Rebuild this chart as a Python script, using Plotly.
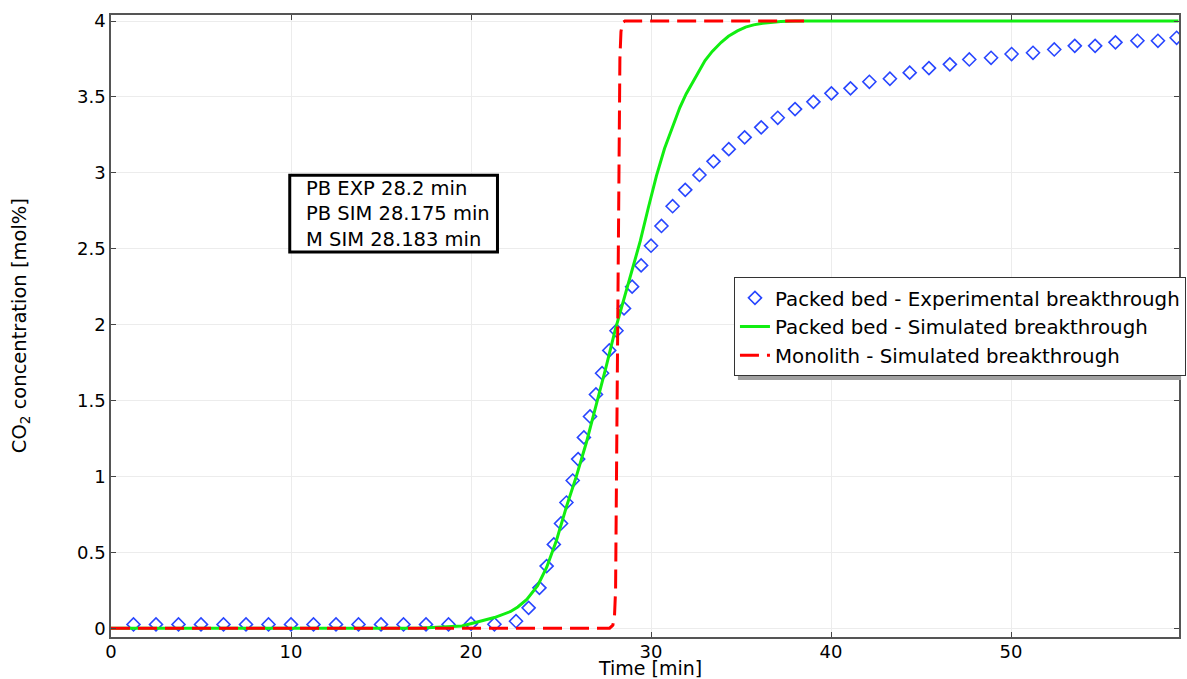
import plotly.graph_objects as go

# Packed bed - experimental breakthrough
exp_t = [1.25, 2.5, 3.75, 5.0, 6.25, 7.5, 8.75, 10.0, 11.25, 12.5, 13.75, 15.0, 16.25, 17.5, 18.75, 20.0,
         21.3, 22.5, 23.2, 23.8, 24.2, 24.6, 25.0, 25.3, 25.65, 25.95, 26.27, 26.61, 26.94, 27.28, 27.68,
         28.08, 28.5, 28.95, 29.45, 30.0, 30.58, 31.2, 31.9, 32.69, 33.47, 34.32, 35.2, 36.12, 37.04, 38.0,
         39.02, 40.02, 41.08, 42.13, 43.27, 44.37, 45.44, 46.6, 47.68, 48.89, 50.03, 51.22, 52.4, 53.54,
         54.67, 55.8, 57.02, 58.16, 59.2]
exp_c = [0.025, 0.025, 0.025, 0.025, 0.025, 0.025, 0.025, 0.025, 0.025, 0.025, 0.025, 0.025, 0.025, 0.025, 0.025, 0.03,
         0.026, 0.046, 0.134, 0.266, 0.409, 0.552, 0.69, 0.828, 0.973, 1.114, 1.257, 1.395, 1.54, 1.68, 1.83,
         1.96, 2.107, 2.25, 2.39, 2.52, 2.65, 2.78, 2.888, 2.986, 3.076, 3.156, 3.234, 3.30, 3.363, 3.42,
         3.468, 3.524, 3.557, 3.60, 3.62, 3.66, 3.69, 3.715, 3.747, 3.758, 3.783, 3.791, 3.813, 3.837,
         3.837, 3.86, 3.87, 3.87, 3.89]

# Packed bed - simulated breakthrough
sim_t = [0, 17.0, 19.5, 20.4, 21.3, 22.2, 22.6, 23.1, 23.7, 24.2, 24.75, 25.3, 25.85, 26.4, 27.0, 27.5,
         28.0, 28.55, 29.0, 29.4, 29.85, 30.3, 30.75, 31.2, 31.6, 31.95, 32.5, 33.0, 33.4, 33.9, 34.3,
         34.8, 35.25, 35.7, 36.2, 36.7, 37.2, 38.0, 59.3]
sim_c = [0, 0, 0.015, 0.04, 0.07, 0.11, 0.14, 0.19, 0.28, 0.40, 0.58, 0.80, 1.0, 1.22, 1.49, 1.72,
         1.96, 2.19, 2.37, 2.55, 2.77, 2.98, 3.16, 3.31, 3.43, 3.52, 3.64, 3.74, 3.80, 3.86, 3.90,
         3.935, 3.96, 3.975, 3.985, 3.992, 3.997, 4.0, 4.0]

# Monolith - simulated breakthrough
mono_t = [0, 27.7, 27.88, 27.97, 28.03, 28.15, 28.27, 28.33, 28.42, 28.55, 38.5]
mono_c = [0, 0, 0.02, 0.08, 0.25, 2.0, 3.75, 3.93, 3.99, 4.0, 4.0]

x_ticks = [0, 10, 20, 30, 40, 50]
y_ticks = [0, 0.5, 1, 1.5, 2, 2.5, 3, 3.5, 4]
y_tick_labels = ["0", "0.5", "1", "1.5", "2", "2.5", "3", "3.5", "4"]

names = ["Packed bed - Experimental breakthrough",
         "Packed bed - Simulated breakthrough",
         "Monolith - Simulated breakthrough"]
box_text = "PB EXP 28.2 min<br>PB SIM 28.175 min<br>M SIM 28.183 min"

FONT = "DejaVu Sans"

fig = go.Figure()
fig.add_trace(go.Scatter(x=exp_t, y=exp_c, mode="markers", name=names[0],
                         marker=dict(symbol="diamond-open", size=10, color="rgb(40,70,255)",
                                     line=dict(width=1.6, color="rgb(40,70,255)"))))
fig.add_trace(go.Scatter(x=sim_t, y=sim_c, mode="lines", name=names[1],
                         line=dict(color="#11ee11", width=3)))
fig.add_trace(go.Scatter(x=mono_t, y=mono_c, mode="lines", name=names[2],
                         line=dict(color="#ff0000", width=3, dash="19px,8px")))

axis_common = dict(showgrid=True, gridcolor="#ececec", gridwidth=1, zeroline=False,
                   showline=True, linecolor="#555555", linewidth=1.5, mirror="ticks",
                   ticks="inside", ticklen=5, tickcolor="#444444",
                   tickfont=dict(family=FONT, size=18, color="black"))

fig.update_xaxes(range=[0, 59.33], tickvals=x_ticks, ticklabelstandoff=-2, **axis_common)
fig.update_yaxes(range=[-0.058, 4.04], tickvals=y_ticks, ticktext=y_tick_labels, **axis_common)

# text box: frame + text
fig.add_shape(type="rect", xref="x", yref="y", x0=9.93, x1=21.47, y0=2.478, y1=2.985,
              line=dict(color="black", width=3), fillcolor="white", layer="above")
fig.add_annotation(x=10.71, y=2.731, xref="x", yref="y", xanchor="left", yanchor="middle",
                   text=box_text, showarrow=False, align="left",
                   font=dict(family=FONT, size=19.5, color="black"))

fig.add_annotation(x=0.505, y=-0.0705, xref="paper", yref="paper", xanchor="center", yanchor="bottom",
                   text="Time [min]", showarrow=False,
                   font=dict(family=FONT, size=19, color="black"))
fig.add_annotation(x=-0.085, y=0.5, xref="paper", yref="paper", xanchor="center", yanchor="middle",
                   text="CO<sub>2</sub> concentration [mol%]", textangle=-90, showarrow=False,
                   font=dict(family=FONT, size=19.5, color="black"))

# legend shadow (bottom edge)
fig.add_shape(type="rect", xref="paper", yref="paper", x0=0.587, x1=1.002, y0=0.413, y1=0.42,
              fillcolor="#a0a0a0", line=dict(width=0), layer="above")

fig.update_layout(
    width=1187, height=679,
    margin=dict(l=111, r=1, t=15, b=42),
    plot_bgcolor="white", paper_bgcolor="white",
    font=dict(family=FONT, size=18, color="black"),
    legend=dict(x=0.5833, y=0.578, xanchor="left", yanchor="top",
                bgcolor="white", bordercolor="#333333", borderwidth=1,
                font=dict(family=FONT, size=19.8, color="black"),
                itemwidth=30, tracegroupgap=0),
    showlegend=True,
)

fig.write_html("out.html")
